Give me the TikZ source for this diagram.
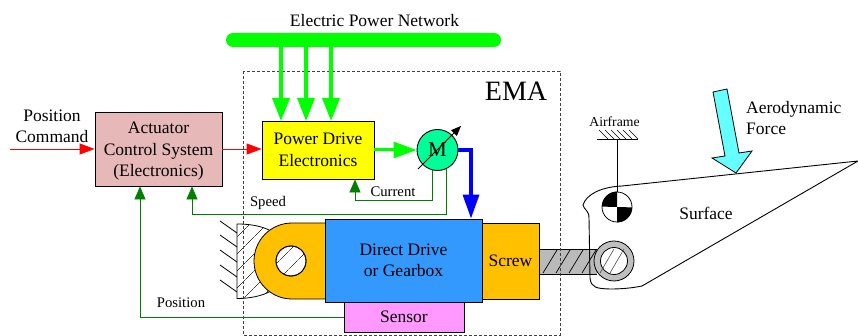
\documentclass[tikz,border=0pt]{standalone}
\usepackage{fontspec}
\setmainfont{Liberation Serif}
\usetikzlibrary{arrows.meta,patterns.meta,calc}
\definecolor{pinkbox}{HTML}{E6B8B7}
\definecolor{yel}{HTML}{FFFF00}
\definecolor{mot}{HTML}{00FF99}
\definecolor{bluebox}{HTML}{3399FF}
\definecolor{gold}{HTML}{FFC000}
\definecolor{sens}{HTML}{FF99FF}
\definecolor{dgreen}{HTML}{008000}
\definecolor{lgreen}{HTML}{00FF00}
\definecolor{cyanf}{HTML}{66FFFF}
\tikzset{
  x=1pt,y=-1pt,
  box/.style={draw=black,line width=0.9pt,inner sep=0pt,align=center,font=\fontsize{17.5}{21.5}\selectfont},
  lab/.style={inner sep=0pt,align=center,font=\fontsize{17.5}{21.5}\selectfont},
  small/.style={inner sep=0pt,align=center,font=\fontsize{14.7}{17}\selectfont},
  sig/.style={draw=dgreen,line width=0.8pt,-{Triangle[length=13pt,width=11pt,fill=dgreen]}},
  pow/.style={draw=lgreen,line width=3.6pt,-{Triangle[length=23pt,width=17pt,fill=lgreen]}},
  redsig/.style={draw=red,line width=0.9pt,-{Triangle[length=15pt,width=11pt,fill=red]}},
  hatch/.style={pattern={Lines[angle=45,distance=13pt,line width=0.6pt]},pattern color=black!75},
}
\begin{document}
\begin{tikzpicture}
\useasboundingbox (0,0) rectangle (858,336);
% screw rod
\fill[black!27] (539,249) rectangle (597,274);
\draw[line width=0.7pt] (539,249) -- (597,249) (539,274) -- (597,274);
\foreach \xa in {543,556,569,582}{
  \draw[line width=0.7pt] (\xa,273) -- (\xa+14,250);
}
% dashed EMA frame
\draw[black!75,dash pattern=on 3pt off 2pt,line width=0.7pt] (243,71) rectangle (560,335);
\node[lab,font=\fontsize{28}{30}\selectfont] (ema) at (516,91) {EMA};
% power network
\node[lab] (nettitle) at (374.5,20.5) {Electric Power Network};
\node[draw=none,fill=lgreen,rounded corners=7pt,minimum width=275pt,minimum height=14pt,inner sep=0pt] (bus) at (363.5,40) {};
% boxes
\node[box,fill=pinkbox,minimum width=127pt,minimum height=74pt] (acs) at (158.5,149) {};
\node[lab] (acstext) at (158.5,151.5) {Actuator\\Control System\\(Electronics)};
\node[box,fill=yel,minimum width=112pt,minimum height=58pt] (pde) at (318,150) {Power Drive\\Electronics};
% inputs
\node[lab] (poscmd) at (52,126.5) {Position\\Command};
\coordinate (cmdin) at (10,149);
\draw[redsig] (cmdin) -- (acs.west|-cmdin);
\draw[redsig] (acs.east|-cmdin) -- (pde.west|-cmdin);
% power arrows
\foreach \xx in {281,306,331}{
  \coordinate (busp) at (\xx,47);
  \draw[pow] (busp) -- (\xx,121);
}
% motor
\node[circle,draw=black,line width=0.9pt,fill=mot,minimum size=41pt,inner sep=0pt,font=\fontsize{21}{23}\selectfont] (motor) at (437.5,150) {M};
\coordinate (mota) at (418,169);
\coordinate (motb) at (461,126);
\draw[line width=0.8pt,-{Triangle[length=10pt,width=8pt,fill=black]}] (mota) -- (motb);
\draw[pow,line width=3pt,-{Triangle[length=23pt,width=16pt,fill=lgreen]}] (pde.east|-motor) -- (motor.west);
% wall
\path[hatch] (237,224) .. controls (250,224) and (262,226) .. (271,231) -- (262,250) -- (262,272) -- (271,291) .. controls (262,296) and (250,298.5) .. (237,298.5) -- cycle;
\draw[line width=0.8pt] (237,224) .. controls (250,224) and (262,226) .. (271,231) -- (262,250) -- (262,272) -- (271,291) .. controls (262,296) and (250,298.5) .. (237,298.5) -- cycle;
\foreach \yy in {233,247,262,277,292}{
  \draw[line width=0.8pt] (237,\yy) -- (220,\yy-12);
}
% clevis
\fill[gold] (292,223) arc[start angle=270,end angle=90,radius=38] -- (326,299) -- (326,223) -- cycle;
\draw[line width=0.8pt] (326,223) -- (292,223) arc[start angle=270,end angle=90,radius=38] -- (326,299);
\node[circle,draw=black,line width=0.8pt,fill=white,minimum size=30pt,inner sep=0pt] (pin) at (291,261) {};
\path[hatch] (291,261) circle[radius=15];
\draw[line width=0.8pt] (291,261) circle[radius=15];
\node[box,fill=bluebox,minimum width=157pt,minimum height=83pt] (drive) at (403.5,260.5) {Direct Drive\\or Gearbox};
\node[box,fill=gold,minimum width=57pt,minimum height=76pt] (screw) at (510.5,261) {Screw};
\node[box,fill=sens,minimum width=120pt,minimum height=30pt] (sensor) at (404,317) {Sensor};
% blue arrow
\coordinate (bend) at (471,150);
\draw[draw=blue,line width=3.4pt,-{Triangle[length=24pt,width=16pt,fill=blue]}] (motor.east) -- (bend) -- (bend|-drive.north);
% signals
\coordinate (cur) at (432,170);
\coordinate (spd) at (446,169);
\coordinate (curx) at (355,200.5);
\coordinate (spdx) at (192,214);
\coordinate (posx) at (140,317);
\draw[sig] (cur) -- (cur|-curx) -- (curx) -- (curx|-pde.south);
\draw[sig] (spd) -- (spd|-spdx) -- (spdx) -- (spdx|-acs.south);
\draw[sig] (sensor.west) -- (posx) -- (posx|-acs.south);
\node[small] (curlab) at (393,191.5) {Current};
\node[small] (spdlab) at (268,202.5) {Speed};
\node[small] (poslab) at (181,303) {Position};
% surface
\coordinate (tipr) at (858,161);
\draw[line width=0.9pt] (tipr) -- (622,186) .. controls (600,187) and (586,195) .. (583,205) .. controls (584,210) and (589,210) .. (589,218) -- (590,278) .. controls (591,288) and (597,288.5) .. (610,289) .. controls (622,289) and (632,288) .. (642,286) -- cycle;
% pivot
\node[circle,draw=black,line width=0.8pt,fill=black!25,minimum size=40pt,inner sep=0pt] (ring) at (614,261) {};
\node[circle,draw=black,line width=0.8pt,fill=white,minimum size=27pt,inner sep=0pt] (ringin) at (614,261) {};
\foreach \da in {-7,3}{
  \draw[black!70,line width=0.6pt] ($(ringin)+(\da-7,12)$) -- ($(ringin)+(\da+7,-12)$);
}
% airframe
\node[small,font=\fontsize{13.7}{15}\selectfont] (af) at (614.5,121.5) {Airframe};
\coordinate (afl) at (597,139);
\coordinate (afr) at (638,139);
\draw[line width=0.7pt] (afl) -- (afr);
\foreach \xx in {599,605,611,617,623,629}{
  \draw[line width=0.5pt] (\xx,130) -- (\xx+9,139);
}
\node[circle,draw=black,line width=0.8pt,fill=white,minimum size=30pt,inner sep=0pt] (cg) at (617,207) {};
\fill (cg.center) -- (cg.north) arc[start angle=270,end angle=180,radius=15] -- cycle;
\fill (cg.center) -- (cg.south) arc[start angle=90,end angle=0,radius=15] -- cycle;
\draw[line width=0.8pt] (afl-|cg) -- (cg.north);
% force arrow
\draw[line width=0.8pt,fill=cyanf] (713,92) -- (727,89) -- (739,153) -- (752,151) -- (736,173) -- (712,158) -- (725,156) -- cycle;
\node[lab,align=left,anchor=north west] (aero) at (746,101) {Aerodynamic\\Force};
\node[lab] (surf) at (706,213) {Surface};
\end{tikzpicture}
\end{document}
